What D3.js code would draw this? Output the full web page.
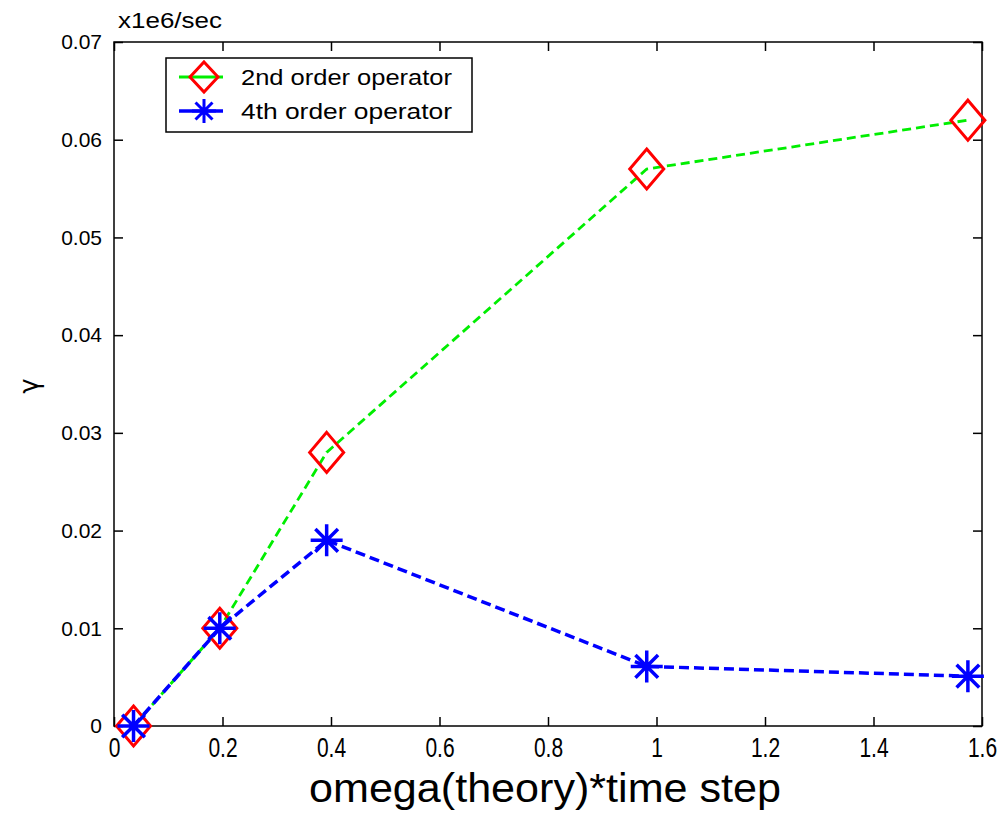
<!DOCTYPE html>
<html>
<head>
<meta charset="utf-8">
<script src="https://cdn.jsdelivr.net/npm/d3@7/dist/d3.min.js"></script>
<style>
  html, body { margin: 0; padding: 0; background: #fff; }
  svg { display: block; }
  text { font-family: "Liberation Sans", Arial, sans-serif; fill: #000; }
  text.greek { font-family: "DejaVu Sans", sans-serif; }
</style>
</head>
<body>
<svg id="chart" width="1003" height="816"></svg>
<script>
// omega(theory) * time step
const xValues = [0.036, 0.195, 0.392, 0.982, 1.574];
// growth rate gamma, x1e6/sec
const gamma2nd = [0.0, 0.010, 0.028, 0.057, 0.062];
const gamma4th = [0.0, 0.010, 0.019, 0.0061, 0.0051];
const seriesNames = ["2nd order operator", "4th order operator"];
const xTicks = [0, 0.2, 0.4, 0.6, 0.8, 1, 1.2, 1.4, 1.6];
const yTicks = [0, 0.01, 0.02, 0.03, 0.04, 0.05, 0.06, 0.07];

const svg = d3.select("#chart");
const L = 114, R = 982, T = 42, B = 726;

const x = d3.scaleLinear().domain([0, 1.6]).range([L, R]);
const y = d3.scaleLinear().domain([0, 0.07]).range([B, T]);

const tickLen = 9;
const fmt = d => (d === 0 ? "0" : String(d));

// frame
svg.append("rect")
  .attr("x", L).attr("y", T).attr("width", R - L).attr("height", B - T)
  .attr("fill", "none").attr("stroke", "#000").attr("stroke-width", 1.5);

// bottom axis with inward ticks; labels drawn slightly tall
const xAxis = svg.append("g").attr("transform", `translate(0,${B})`)
  .call(d3.axisBottom(x).tickValues(xTicks).tickFormat(fmt).tickSizeInner(-tickLen).tickSizeOuter(0).tickPadding(0));
xAxis.select(".domain").remove();
xAxis.selectAll("line").attr("stroke", "#000").attr("stroke-width", 1.5);
xAxis.selectAll("text")
  .attr("font-size", 21).attr("font-family", "Liberation Sans, Arial, sans-serif")
  .attr("y", 0).attr("dy", null)
  .attr("transform", "translate(0,31) scale(1,1.3)");

// top ticks
const xTop = svg.append("g").attr("transform", `translate(0,${T})`)
  .call(d3.axisTop(x).tickValues(xTicks).tickFormat("").tickSizeInner(-tickLen).tickSizeOuter(0));
xTop.select(".domain").remove();
xTop.selectAll("line").attr("stroke", "#000").attr("stroke-width", 1.5);

// left axis
const yAxis = svg.append("g").attr("transform", `translate(${L},0)`)
  .call(d3.axisLeft(y).tickValues(yTicks).tickFormat(fmt).tickSizeInner(-tickLen).tickSizeOuter(0).tickPadding(12));
yAxis.select(".domain").remove();
yAxis.selectAll("line").attr("stroke", "#000").attr("stroke-width", 1.5);
yAxis.selectAll("text").attr("font-size", 21).attr("font-family", "Liberation Sans, Arial, sans-serif");

// right ticks
const yRight = svg.append("g").attr("transform", `translate(${R},0)`)
  .call(d3.axisRight(y).tickValues(yTicks).tickFormat("").tickSizeInner(-tickLen).tickSizeOuter(0));
yRight.select(".domain").remove();
yRight.selectAll("line").attr("stroke", "#000").attr("stroke-width", 1.5);

// exponent label
svg.append("text").attr("x", 118).attr("y", 28).attr("font-size", 22)
  .attr("textLength", 104).attr("lengthAdjust", "spacingAndGlyphs").text("x1e6/sec");

// axis titles
svg.append("text")
  .attr("x", (L + R) / 2 - 3).attr("y", 802)
  .attr("text-anchor", "middle").attr("font-size", 40)
  .attr("textLength", 472).attr("lengthAdjust", "spacingAndGlyphs")
  .text("omega(theory)*time step");

svg.append("text")
  .attr("class", "greek")
  .attr("transform", `translate(38,386) rotate(-90)`)
  .attr("text-anchor", "middle").attr("font-size", 26)
  .text("γ");

// markers
const diamondPath = (hw, hh) => `M0,${-hh}L${hw},0L0,${hh}L${-hw},0Z`;
const asteriskPath = r => {
  const d = r * Math.SQRT1_2;
  return `M${-r},0L${r},0M0,${-r}L0,${r}M${-d},${-d}L${d},${d}M${-d},${d}L${d},${-d}`;
};

const line = d3.line().x(d => x(d[0])).y(d => y(d[1]));
const pts2 = xValues.map((v, i) => [v, gamma2nd[i]]);
const pts4 = xValues.map((v, i) => [v, gamma4th[i]]);

// 2nd order series
svg.append("path").datum(pts2).attr("d", line)
  .attr("fill", "none").attr("stroke", "#00ee00").attr("stroke-width", 2.8)
  .attr("stroke-dasharray", "9,5");
svg.append("g").selectAll("path").data(pts2).join("path")
  .attr("transform", d => `translate(${x(d[0])},${y(d[1])})`)
  .attr("d", diamondPath(17, 20))
  .attr("fill", "none").attr("stroke", "#ff0000").attr("stroke-width", 3);

// 4th order series
svg.append("path").datum(pts4).attr("d", line)
  .attr("fill", "none").attr("stroke", "#0000ff").attr("stroke-width", 3.5)
  .attr("stroke-dasharray", "10,5");
svg.append("g").selectAll("path").data(pts4).join("path")
  .attr("transform", d => `translate(${x(d[0])},${y(d[1])})`)
  .attr("d", asteriskPath(16))
  .attr("fill", "none").attr("stroke", "#0000ff").attr("stroke-width", 3.5);

// legend
const lg = svg.append("g");
lg.append("rect").attr("x", 166).attr("y", 58).attr("width", 306).attr("height", 74)
  .attr("fill", "#fff").attr("stroke", "#000").attr("stroke-width", 1.5);
const rows = [
  { name: seriesNames[0], color: "#00ee00", mColor: "#ff0000", marker: diamondPath(14, 15), w: 2.8, yy: 77 },
  { name: seriesNames[1], color: "#0000ff", mColor: "#0000ff", marker: asteriskPath(12), w: 3.5, yy: 111 }
];
rows.forEach(r => {
  lg.append("line").attr("x1", 179).attr("x2", 223).attr("y1", r.yy).attr("y2", r.yy)
    .attr("stroke", r.color).attr("stroke-width", r.w);
  lg.append("path").attr("transform", `translate(204,${r.yy})`).attr("d", r.marker)
    .attr("fill", "none").attr("stroke", r.mColor).attr("stroke-width", 3);
  lg.append("text").attr("x", 241).attr("y", r.yy).attr("dy", "0.36em")
    .attr("font-size", 22).attr("textLength", 211).attr("lengthAdjust", "spacingAndGlyphs")
    .text(r.name);
});
</script>
</body>
</html>
